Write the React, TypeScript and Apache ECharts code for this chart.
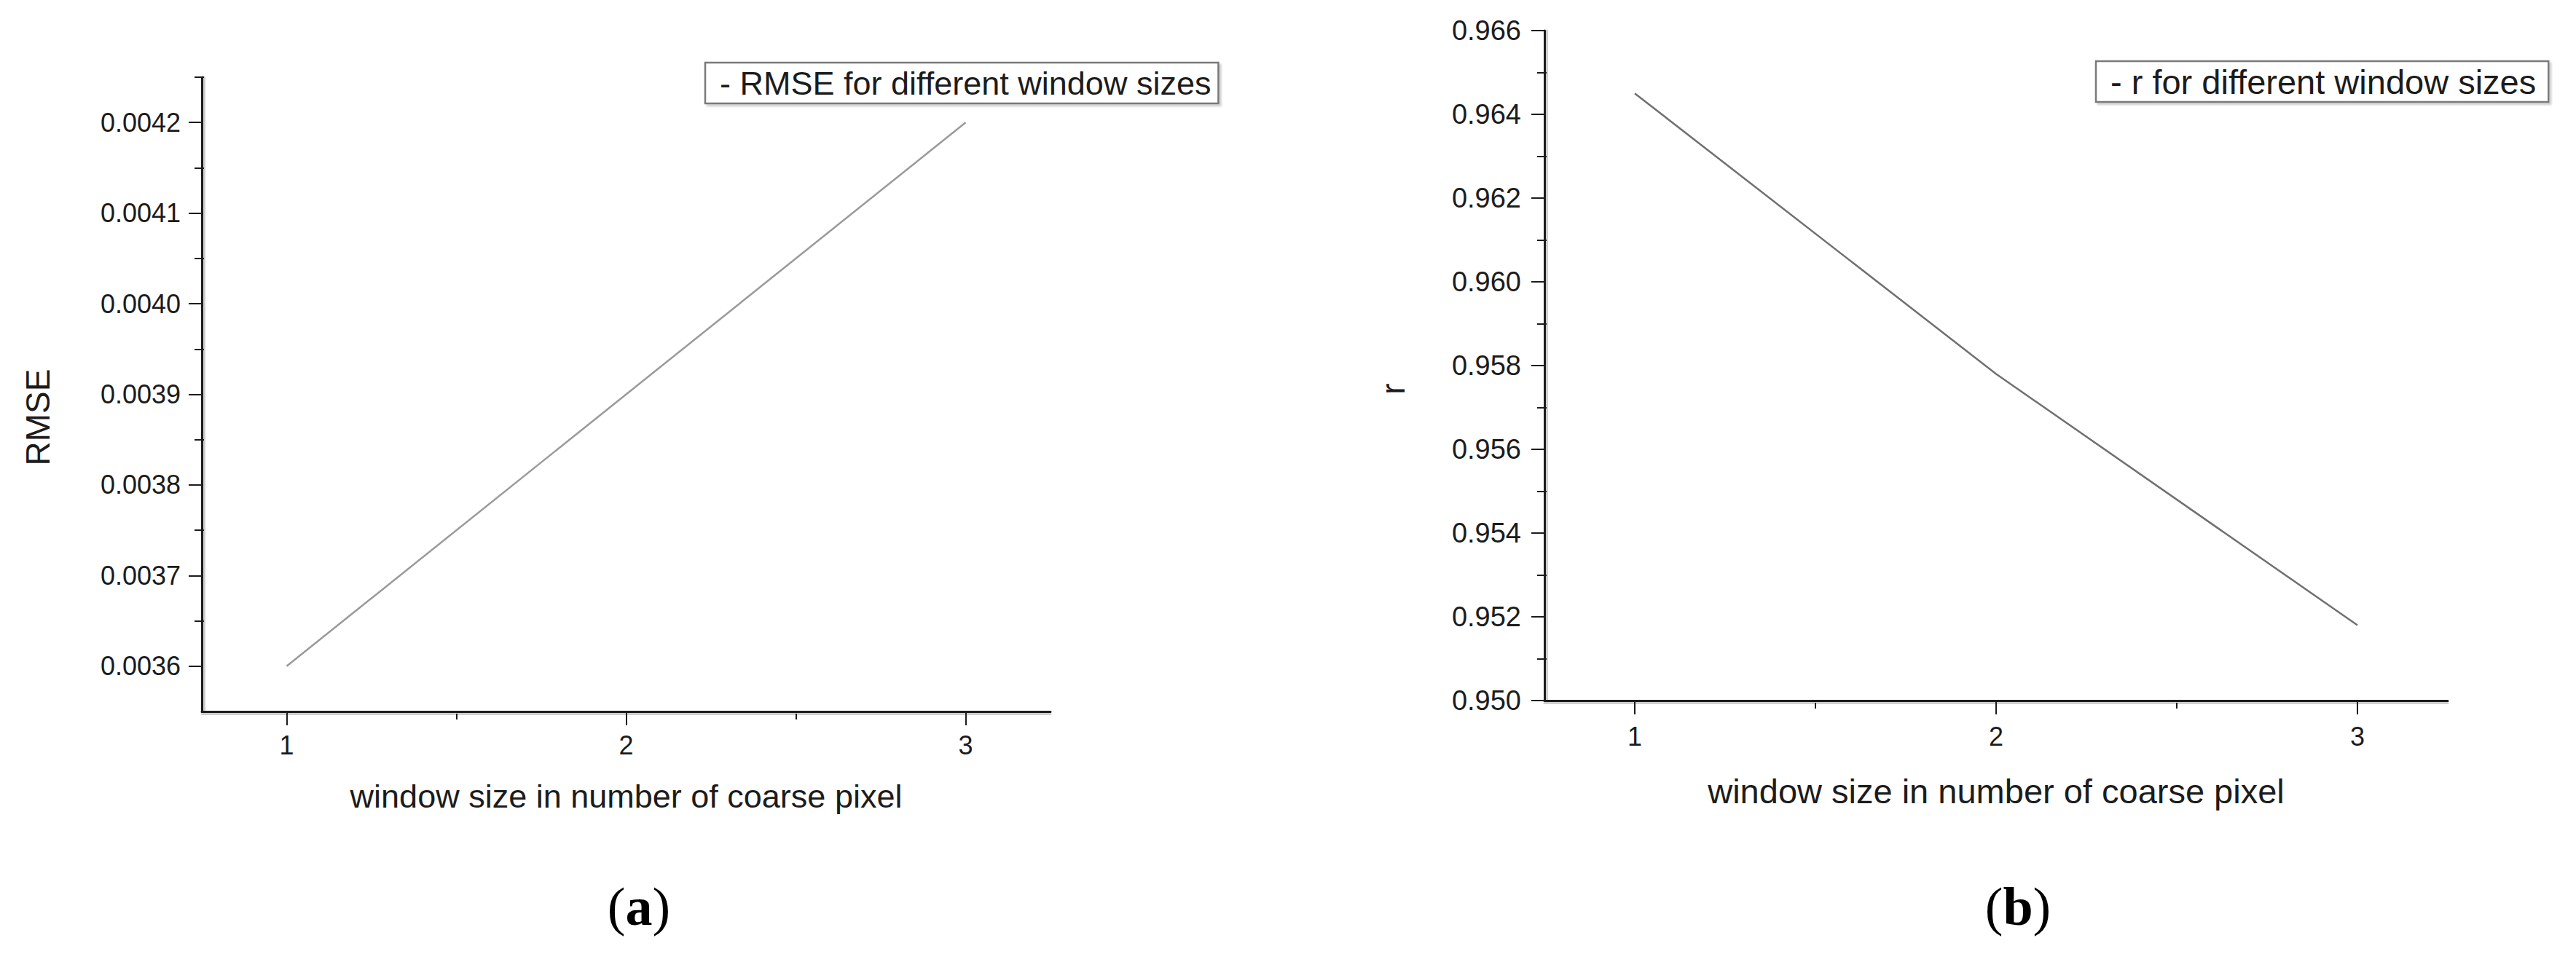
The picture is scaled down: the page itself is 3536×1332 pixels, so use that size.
import React, { useEffect, useRef } from 'react';
import * as echarts from 'echarts';

// ---- data ----
const windowSizes = [1, 2, 3];
const rmseValues = [0.0036, 0.0039, 0.0042];
const rValues = [0.9645, 0.9578, 0.9518];

const rmseTickLabels = [0.0036, 0.0037, 0.0038, 0.0039, 0.004, 0.0041, 0.0042];
const rmseMinorTicks = [0.00365, 0.00375, 0.00385, 0.00395, 0.00405, 0.00415, 0.00425];
const rTickLabels = [0.95, 0.952, 0.954, 0.956, 0.958, 0.96, 0.962, 0.964, 0.966];
const rMinorTicks = [0.951, 0.953, 0.955, 0.957, 0.959, 0.961, 0.963, 0.965];
const xTickLabels = [1, 2, 3];
const xMinorTicks = [1.5, 2.5];

const seriesNames = ['RMSE for different window sizes', 'r for different window sizes'];
const xTitle = 'window size in number of coarse pixel';
const yTitles = ['RMSE', 'r'];
const panelLabels = ['a', 'b'];

const SANS = 'Liberation Sans, Arial, sans-serif';
const SERIF = 'Liberation Serif, Times New Roman, serif';
const INK = '#1c1c1c';
const SHADOW = '#cfcfcf';

function majorX(gridIndex: number, labelMargin: number, nameGap: number, nameSize: number) {
  return {
    type: 'value',
    gridIndex,
    min: 0.75,
    max: 3.25,
    position: 'bottom',
    z: 5,
    axisLine: { show: true, onZero: false, lineStyle: { color: INK, width: 3 } },
    axisTick: { show: true, customValues: xTickLabels, length: 19, lineStyle: { color: INK, width: 2 } },
    axisLabel: {
      show: true,
      customValues: xTickLabels,
      margin: labelMargin,
      fontSize: 36,
      lineHeight: 36,
      fontFamily: SANS,
      color: INK,
      formatter: (v: number) => String(v),
    },
    splitLine: { show: false },
    name: xTitle,
    nameLocation: 'middle',
    nameGap,
    nameTextStyle: { fontSize: nameSize, lineHeight: nameSize, fontFamily: SANS, color: INK },
  };
}

// second axis: light shadow line just below the axis + the short minor ticks
function minorX(gridIndex: number) {
  return {
    type: 'value',
    gridIndex,
    min: 0.75,
    max: 3.25,
    position: 'bottom',
    offset: 3,
    z: 4,
    axisLine: { show: true, onZero: false, lineStyle: { color: SHADOW, width: 3 } },
    axisTick: { show: true, customValues: xMinorTicks, length: 8, lineStyle: { color: INK, width: 2 } },
    axisLabel: { show: false },
    splitLine: { show: false },
  };
}

function majorY(gridIndex: number, min: number, max: number, ticks: number[], digits: number, margin: number, fontSize: number) {
  return {
    type: 'value',
    gridIndex,
    min,
    max,
    position: 'left',
    z: 5,
    axisLine: { show: true, onZero: false, lineStyle: { color: INK, width: 3 } },
    axisTick: { show: true, customValues: ticks, length: 18, lineStyle: { color: INK, width: 2 } },
    axisLabel: {
      show: true,
      customValues: ticks,
      margin,
      fontSize,
      fontFamily: SANS,
      color: INK,
      formatter: (v: number) => v.toFixed(digits),
    },
    splitLine: { show: false },
  };
}

// second axis: light shadow line just right of the axis + the short minor ticks
function minorY(gridIndex: number, min: number, max: number, ticks: number[]) {
  return {
    type: 'value',
    gridIndex,
    min,
    max,
    position: 'left',
    offset: -3,
    z: 4,
    axisLine: { show: true, onZero: false, lineStyle: { color: SHADOW, width: 3 } },
    axisTick: { show: true, customValues: ticks, length: 13, lineStyle: { color: INK, width: 2 } },
    axisLabel: { show: false },
    splitLine: { show: false },
  };
}

function legendBox(name: string, left: number, top: number, fontSize: number, padRight: number) {
  return {
    data: [name],
    left,
    top,
    orient: 'horizontal',
    icon: 'none',
    itemWidth: 0,
    itemHeight: 10,
    selectedMode: false,
    formatter: '- {name}',
    padding: [3, padRight, 3, 15],
    borderColor: '#7a7a7a',
    borderWidth: 2.5,
    backgroundColor: '#ffffff',
    shadowColor: 'rgba(0,0,0,0.18)',
    shadowOffsetX: 3,
    shadowOffsetY: 3,
    shadowBlur: 2,
    textStyle: { fontSize, lineHeight: 50, fontFamily: SANS, color: INK },
  };
}

function panelLabel(letter: string, x: number, y: number) {
  return {
    type: 'text',
    x,
    y,
    style: {
      text: `{p|(}{b|${letter}}{p|)}`,
      align: 'center',
      verticalAlign: 'middle',
      rich: {
        p: { fontFamily: SERIF, fontSize: 74, fill: '#000', color: '#000' },
        b: { fontFamily: SERIF, fontSize: 74, fontWeight: 'bold', fill: '#000', color: '#000' },
      },
    },
  };
}

function yName(text: string, x: number, y: number) {
  return {
    type: 'text',
    x,
    y,
    rotation: Math.PI / 2,
    style: {
      text,
      fontFamily: SANS,
      fontSize: 46,
      fill: INK,
      align: 'center',
      verticalAlign: 'middle',
    },
  };
}

export default function App() {
  const ref = useRef<HTMLDivElement>(null);

  useEffect(() => {
    if (!ref.current) return;
    const chart = echarts.init(ref.current, null, { renderer: 'svg', width: 3536, height: 1332 });
    const option: any = {
      animation: false,
      backgroundColor: '#ffffff',
      grid: [
        { left: 277, top: 106, width: 1165, height: 871, containLabel: false, outerBoundsMode: 'none' },
        { left: 2120, top: 42, width: 1240, height: 920, containLabel: false, outerBoundsMode: 'none' },
      ],
      xAxis: [majorX(0, 28, 94, 45), minorX(0), majorX(1, 31, 101, 47), minorX(1)],
      yAxis: [
        majorY(0, 0.00355, 0.00425, rmseTickLabels, 4, 29, 36),
        minorY(0, 0.00355, 0.00425, rmseMinorTicks),
        majorY(1, 0.95, 0.966, rTickLabels, 3, 32, 38),
        minorY(1, 0.95, 0.966, rMinorTicks),
      ],
      legend: [
        legendBox(seriesNames[0], 968, 86, 45, 10),
        legendBox(seriesNames[1], 2877, 84, 47, 17),
      ],
      series: [
        {
          name: seriesNames[0],
          type: 'line',
          xAxisIndex: 0,
          yAxisIndex: 0,
          data: windowSizes.map((x, i) => [x, rmseValues[i]]),
          showSymbol: false,
          symbol: 'none',
          lineStyle: { color: '#9a9a9a', width: 2.5 },
          itemStyle: { color: '#9a9a9a' },
        },
        {
          name: seriesNames[1],
          type: 'line',
          xAxisIndex: 2,
          yAxisIndex: 2,
          data: windowSizes.map((x, i) => [x, rValues[i]]),
          showSymbol: false,
          symbol: 'none',
          lineStyle: { color: '#707070', width: 2.5 },
          itemStyle: { color: '#707070' },
        },
      ],
      graphic: [
        yName(yTitles[0], 52, 573),
        yName(yTitles[1], 1912, 534),
        panelLabel(panelLabels[0], 877, 1245),
        panelLabel(panelLabels[1], 2770, 1245),
      ],
    };
    chart.setOption(option);
    return () => chart.dispose();
  }, []);

  return (
    <div
      ref={ref}
      style={{ position: 'absolute', left: 0, top: 0, width: 3536, height: 1332, background: '#fff' }}
    />
  );
}
